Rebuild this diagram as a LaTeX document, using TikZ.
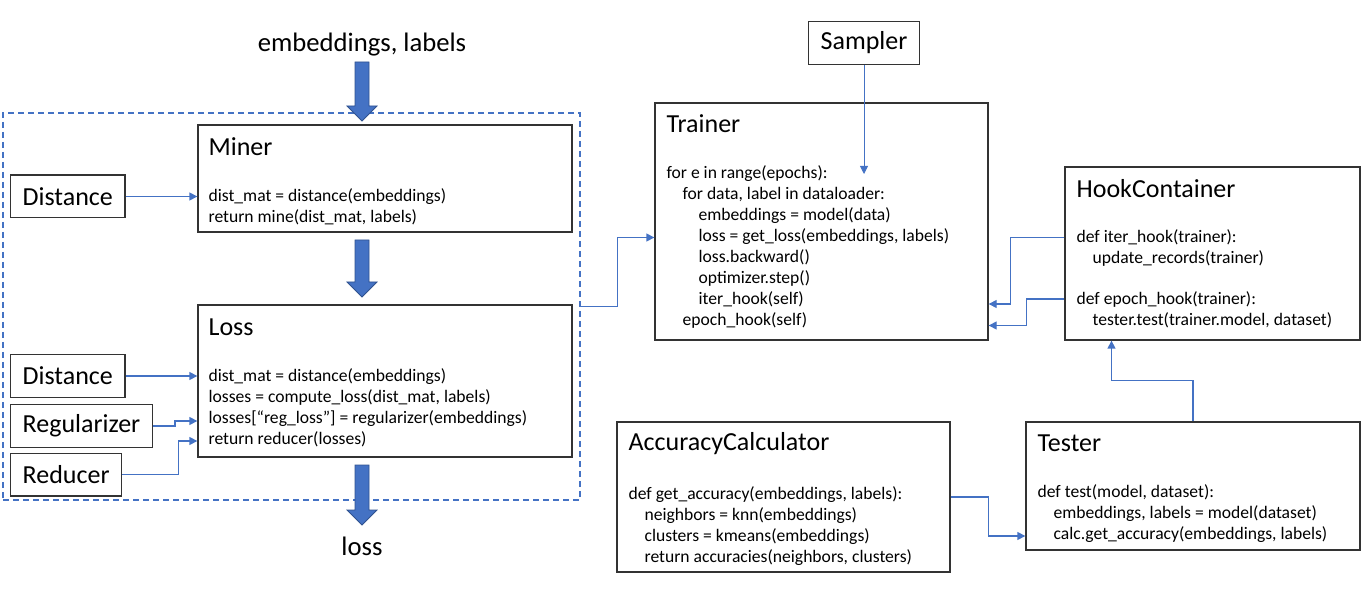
\documentclass[tikz,border=0pt]{standalone}
\usepackage{fontspec}
\setmainfont{Carlito}
\usetikzlibrary{arrows.meta,fit}
\definecolor{officeblue}{HTML}{4472C4}
\definecolor{darkblue}{HTML}{2F528F}
\def\codeind{\hspace*{12pt}}
\def\fatarrow[#1](#2:#3:#4){\draw[#1] ({#2-7},#3) -- ({#2+7},#3) -- ({#2+7},{#4-15}) -- ({#2+15},{#4-15}) -- (#2,#4) -- ({#2-15},{#4-15}) -- ({#2-7},{#4-15}) -- cycle;}
\tikzset{
	classbox/.style={draw=black!80, line width=1pt, inner sep=0pt},
	smallbox/.style={draw=black!80, line width=1pt, inner xsep=9pt, minimum height=32pt, anchor=west, font=\fontsize{19.5}{23}\selectfont},
	head/.style={anchor=base west, inner sep=0pt, font=\fontsize{19.5}{23}\selectfont},
	code/.style={anchor=north west, inner sep=0pt, align=left, font=\fontsize{13.2}{15.75}\selectfont},
	conn/.style={draw=officeblue, line width=1pt, -{Triangle[length=6pt,width=6pt]}},
	fat/.style={fill=officeblue, draw=darkblue, line width=0.6pt},
	group/.style={draw=officeblue, dash pattern=on 4.5pt off 3pt, line width=0.9pt, inner sep=0pt}
}

\begin{document}
\begin{tikzpicture}[x=0.75pt, y=-0.75pt]
	%%%%% START %%%%%
	\useasboundingbox (0,0) rectangle (1366,605);
	
	% loss side
	\node[group, fit={(3,113) (580,500)}] (lossgroup) {};
	\node[font=\fontsize{20}{24}\selectfont] (inputs) at (362,45) {embeddings, labels};
	\node[font=\fontsize{20}{24}\selectfont] (output) at (362,546) {loss};
	
	\node[classbox, fit={(198,125) (572,232)}] (miner) {};
	\node[head] (minerHead) at ([shift={(11,31.5)}]miner.north west) {Miner};
	\node[code] (minerCode) at ([shift={(11,62.5)}]miner.north west) {\strut dist\_mat = distance(embeddings)\\
		return mine(dist\_mat, labels)};
	
	\node[classbox, fit={(198,305) (572,457)}] (loss) {};
	\node[head] (lossHead) at ([shift={(11,31.5)}]loss.north west) {Loss};
	\node[code] (lossCode) at ([shift={(11,62)}]loss.north west) {\strut dist\_mat = distance(embeddings)\\
		losses = compute\_loss(dist\_mat, labels)\\
		losses[“reg\_loss”] = regularizer(embeddings)\\
		return reducer(losses)};
	
	\node[smallbox] (dist1) at (10,196.5) {Distance};
	\node[smallbox] (dist2) at (10,376) {Distance};
	\node[smallbox] (reg) at (10,426) {Regularizer};
	\node[smallbox] (red) at (10,474.5) {Reducer};
	
	\fatarrow[fat](362:62:121)
	\fatarrow[fat](362:240:297)
	\fatarrow[fat](362:465:525)
	
	% trainer side
	\node[smallbox, anchor=center] (sampler) at (864,43) {Sampler};
	
	\node[classbox, fit={(655,103) (988,340)}] (trainer) {};
	\node[head] (trainerHead) at ([shift={(12,30.5)}]trainer.north west) {Trainer};
	\node[code] (trainerCode) at ([shift={(12,61)}]trainer.north west) {\strut for e in range(epochs):\\
		\codeind for data, label in dataloader:\\
		\codeind\codeind embeddings = model(data)\\
		\codeind\codeind loss = get\_loss(embeddings, labels)\\
		\codeind\codeind loss.backward()\\
		\codeind\codeind optimizer.step()\\
		\codeind\codeind iter\_hook(self)\\
		\codeind epoch\_hook(self)};
	
	\node[classbox, fit={(1065,167) (1360,340)}] (hooks) {};
	\node[head] (hooksHead) at ([shift={(12,31.5)}]hooks.north west) {HookContainer};
	\node[code] (hooksCode) at ([shift={(12,61.5)}]hooks.north west) {\strut def iter\_hook(trainer):\\
		\codeind update\_records(trainer)\\[14.5pt]
		def epoch\_hook(trainer):\\
		\codeind tester.test(trainer.model, dataset)};
	
	\node[classbox, fit={(617,422) (950,572)}] (acc) {};
	\node[head] (accHead) at ([shift={(12,29.5)}]acc.north west) {AccuracyCalculator};
	\node[code] (accCode) at ([shift={(12,63)}]acc.north west) {\strut def get\_accuracy(embeddings, labels):\\
		\codeind neighbors = knn(embeddings)\\
		\codeind clusters = kmeans(embeddings)\\
		\codeind return accuracies(neighbors, clusters)};
	
	\node[classbox, fit={(1026,422) (1360,550)}] (tester) {};
	\node[head] (testerHead) at ([shift={(12,30.5)}]tester.north west) {Tester};
	\node[code] (testerCode) at ([shift={(12,61)}]tester.north west) {\strut def test(model, dataset):\\
		\codeind embeddings, labels = model(dataset)\\
		\codeind calc.get\_accuracy(embeddings, labels)};
	
	% connectors
	\draw[conn] (dist1.east) -- (dist1.east -| miner.west);
	\draw[conn] (dist2.east) -- (dist2.east -| loss.west);
	\draw[conn] (reg.east) -- ++(22,0) |- ([shift={(0,40)}]loss.west);
	\draw[conn] (red.east) -- ++(56,0) |- ([shift={(0,60)}]loss.west);
	\draw[conn] (lossgroup.east) -- ++(37,0) |- ([shift={(0,16)}]trainer.west);
	\draw[conn, line width=0.6pt] (sampler.south) -- ++(0,109);
	\draw[conn] ([shift={(0,-16)}]hooks.west) -- ++(-54,0) |- ([shift={(0,82.5)}]trainer.east);
	\draw[conn] ([shift={(0,45.5)}]hooks.west) -- ++(-38,0) |- ([shift={(0,104)}]trainer.east);
	\draw[conn] (tester.north) -- ++(0,-41) -| ([shift={(-101,0)}]hooks.south);
	\draw[conn] (acc.east) -- ++(38,0) |- ([shift={(0,50)}]tester.west);
	
	%%%%% END %%%%%
\end{tikzpicture}
\end{document}
